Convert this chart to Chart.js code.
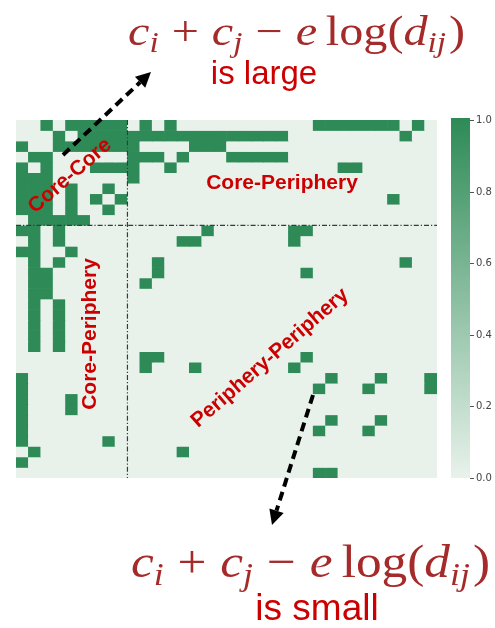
<!DOCTYPE html>
<html>
<head>
<meta charset="utf-8">
<script src="https://cdn.jsdelivr.net/npm/chart.js@4.4.1/dist/chart.umd.min.js"></script>
<style>
html,body{margin:0;padding:0;background:#ffffff;}
#wrap{position:relative;width:495px;height:628px;}
canvas{display:block;}
</style>
</head>
<body>
<div id="wrap"><canvas id="c" width="495" height="628"></canvas></div>
<script>
// ---------------- data ----------------
const nodes = ['0','1','2','3','4','5','6','7','8','9','10','11','12','13','14','15','16',
  '17','18','19','20','21','22','23','24','25','26','27','28','29','30','31','32','33'];

// links of the (symmetric) adjacency matrix: row -> columns with value 1 (upper part)
const upperNeighbours = {
  0: [2,4,5,6,7,8,10,12,24,25,26,27,28,29,30,32],
  1: [3,5,6,7,8,9,10,11,12,13,14,15,16,17,18,19,20,21,31],
  2: [3,4,5,6,7,8,9,14,15,16],
  3: [9,10,11,13,17,18,19,20,21],
  4: [6,7,8,9,12,26,27],
  5: [9],
  6: [7],
  7: [8,30],
  10: [15,22,23],
  11: [13,14,22],
  13: [31],
  14: [23],
  22: [23],
  24: [25,29,33],
  25: [28,33],
  28: [29]
};

const coreSplitColumn = 9;   // vertical dash-dot line (column boundary)
const coreSplitRow = 10;     // horizontal dash-dot line (row boundary)
const colorbarTicks = [0.0, 0.2, 0.4, 0.6, 0.8, 1.0];
const regionLabels = ['Core-Core', 'Core-Periphery', 'Core-Periphery', 'Periphery-Periphery'];
const captionTop = 'is large';
const captionBottom = 'is small';

// ---------------- colours ----------------
const LOW = [232, 242, 235];
const HIGH = [46, 139, 87];
function colorFor(v) {
  const c = LOW.map((l, k) => Math.round(l + (HIGH[k] - l) * v));
  return 'rgb(' + c.join(',') + ')';
}

const matrix = nodes.map(() => nodes.map(() => 0));
Object.keys(upperNeighbours).forEach(k => {
  const i = +k;
  upperNeighbours[k].forEach(j => { matrix[i][j] = 1; matrix[j][i] = 1; });
});

const datasets = nodes.map((_, r) => ({
  label: 'row ' + r,
  data: nodes.map(() => [r, r + 1]),
  backgroundColor: matrix[r].map(v => colorFor(v)),
  borderWidth: 0,
  barPercentage: 1,
  categoryPercentage: 1,
  grouped: false
}));

// ---------------- drawing helpers ----------------
const RED = '#cc0000';
const MATH = '#a52a2a';

function drawArrow(ctx, x0, y0, x1, y1) {
  const ang = Math.atan2(y1 - y0, x1 - x0);
  const headLen = 15, headW = 7.5;
  const bx = x1 - Math.cos(ang) * headLen, by = y1 - Math.sin(ang) * headLen;
  ctx.save();
  ctx.strokeStyle = '#000';
  ctx.lineWidth = 4;
  ctx.setLineDash([9, 5.5]);
  ctx.beginPath();
  ctx.moveTo(x0, y0);
  ctx.lineTo(bx, by);
  ctx.stroke();
  ctx.setLineDash([]);
  ctx.fillStyle = '#000';
  ctx.beginPath();
  ctx.moveTo(x1, y1);
  ctx.lineTo(bx + Math.sin(ang) * headW, by - Math.cos(ang) * headW);
  ctx.lineTo(bx - Math.sin(ang) * headW, by + Math.cos(ang) * headW);
  ctx.closePath();
  ctx.fill();
  ctx.restore();
}

const mathParts = [
  {t: 'c', f: 'it'}, {t: 'i', f: 'sub'}, {g: 0.27}, {t: '+', f: 'rm'}, {g: 0.27},
  {t: 'c', f: 'it'}, {t: 'j', f: 'sub'}, {g: 0.27}, {t: '\u2212', f: 'rm'}, {g: 0.27},
  {t: 'e', f: 'it'}, {g: 0.18}, {t: 'log', f: 'rm'}, {t: '(', f: 'rm'},
  {t: 'd', f: 'it'}, {t: 'ij', f: 'sub'}, {g: 0.06}, {t: ')', f: 'rm'}
];
function mathFont(p, size) {
  if (p.f === 'it') return 'italic ' + size + 'px "Liberation Serif"';
  if (p.f === 'sub') return 'italic ' + Math.round(size * 0.7) + 'px "Liberation Serif"';
  return size + 'px "Liberation Serif"';
}
function drawMath(ctx, left, baseline, size, targetW) {
  ctx.save();
  let total = 0;
  const widths = mathParts.map(p => {
    if (p.g !== undefined) return p.g * size;
    ctx.font = mathFont(p, size);
    return ctx.measureText(p.t).width;
  });
  widths.forEach(w => total += w);
  const sx = targetW / total;
  ctx.translate(left, baseline);
  ctx.scale(sx, 1);
  ctx.fillStyle = MATH;
  ctx.textBaseline = 'alphabetic';
  ctx.textAlign = 'left';
  let x = 0;
  mathParts.forEach((p, k) => {
    if (p.g === undefined) {
      ctx.font = mathFont(p, size);
      ctx.fillText(p.t, x, p.f === 'sub' ? size * 0.17 : 0);
    }
    x += widths[k];
  });
  ctx.restore();
}

function drawRotated(ctx, text, x, y, deg, font, color) {
  ctx.save();
  ctx.translate(x, y);
  ctx.rotate(deg * Math.PI / 180);
  ctx.font = font;
  ctx.fillStyle = color;
  ctx.textAlign = 'center';
  ctx.textBaseline = 'middle';
  ctx.fillText(text, 0, 0);
  ctx.restore();
}

const overlay = {
  id: 'overlay',
  beforeDatasetsDraw(chart) {
    const {ctx, chartArea: a} = chart;
    ctx.save();
    ctx.fillStyle = colorFor(0);
    ctx.fillRect(a.left, a.top, a.right - a.left, a.bottom - a.top);
    ctx.restore();
  },
  afterDatasetsDraw(chart) {
    const {ctx, chartArea: a, scales} = chart;
    const xs = scales.x, ys = scales.y, cb = scales.cb;

    // dash-dot separators
    const vx = xs.getPixelForValue(coreSplitColumn - 0.5);
    const hy = ys.getPixelForValue(coreSplitRow);
    ctx.save();
    ctx.strokeStyle = '#3a3a3a';
    ctx.lineWidth = 1.2;
    ctx.setLineDash([5, 2, 1.2, 2]);
    ctx.beginPath();
    ctx.moveTo(vx, a.top); ctx.lineTo(vx, a.bottom);
    ctx.moveTo(a.left, hy); ctx.lineTo(a.right, hy);
    ctx.stroke();
    ctx.restore();

    // colour bar
    const cbL = 451, cbR = 470;
    const yTop = cb.getPixelForValue(1), yBot = cb.getPixelForValue(0);
    const grad = ctx.createLinearGradient(0, yTop, 0, yBot);
    grad.addColorStop(0, colorFor(1));
    grad.addColorStop(1, colorFor(0));
    ctx.save();
    ctx.fillStyle = grad;
    ctx.fillRect(cbL, yTop - 2, cbR - cbL, yBot - yTop + 2);
    ctx.strokeStyle = '#555';
    ctx.lineWidth = 1;
    ctx.font = '10px "DejaVu Sans"';
    ctx.fillStyle = '#444';
    ctx.textAlign = 'left';
    ctx.textBaseline = 'middle';
    colorbarTicks.forEach(v => {
      const py = Math.round(cb.getPixelForValue(v)) + 0.5;
      ctx.beginPath(); ctx.moveTo(cbR, py); ctx.lineTo(cbR + 4, py); ctx.stroke();
      ctx.fillText(v.toFixed(1), cbR + 6, py);
    });
    ctx.restore();

    // region labels
    const lf = 'bold 21px "Liberation Sans"';
    drawRotated(ctx, regionLabels[0], 70, 176, -41, lf, RED);
    drawRotated(ctx, regionLabels[1], 282, 183, 0, lf, RED);
    drawRotated(ctx, regionLabels[2], 90, 334, -90, lf, RED);
    drawRotated(ctx, regionLabels[3], 270, 358, -41, lf, RED);

    // arrows
    drawArrow(ctx, 63, 155, 151, 72);
    drawArrow(ctx, 313, 395, 272, 525);

    // formulas & captions
    drawMath(ctx, 128, 45, 42, 337);
    drawMath(ctx, 131, 577, 46, 359);
    ctx.save();
    ctx.fillStyle = RED;
    ctx.textAlign = 'center';
    ctx.textBaseline = 'alphabetic';
    ctx.font = '33px "Liberation Sans"';
    ctx.fillText(captionTop, 264, 84);
    ctx.font = '37px "Liberation Sans"';
    ctx.fillText(captionBottom, 317, 620);
    ctx.restore();
  }
};

new Chart(document.getElementById('c'), {
  type: 'bar',
  data: {labels: nodes, datasets: datasets},
  options: {
    responsive: false,
    animation: false,
    devicePixelRatio: 1,
    events: [],
    layout: {padding: {left: 16, right: 58, top: 120, bottom: 150}},
    plugins: {legend: {display: false}, tooltip: {enabled: false}},
    scales: {
      x: {type: 'category', display: false, offset: true, grid: {display: false}},
      y: {type: 'linear', min: 0, max: nodes.length, reverse: true, display: false},
      cb: {type: 'linear', position: 'right', axis: 'y', min: 0, max: 1, display: false}
    }
  },
  plugins: [overlay]
});
</script>
</body>
</html>
